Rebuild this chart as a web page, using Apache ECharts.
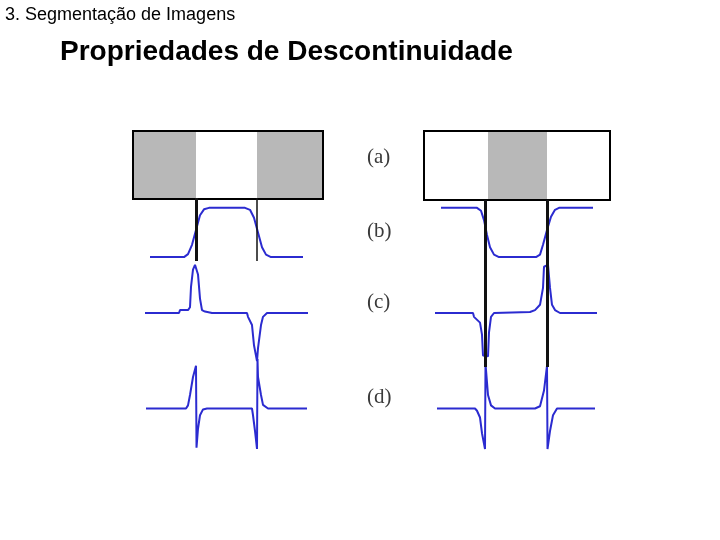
<!DOCTYPE html>
<html><head><meta charset="utf-8">
<script src="https://cdn.jsdelivr.net/npm/echarts@6/dist/echarts.min.js"></script>
<style>html,body{margin:0;padding:0;background:#fff}#c{width:720px;height:540px}</style>
</head><body><div id="c"></div>
<script>
// ---------- text ----------
const headerText = '3. Segmentação de Imagens';
const titleText = 'Propriedades de Descontinuidade';
const rowLabels = ['(a)', '(b)', '(c)', '(d)'];

// ---------- (a) image strips: band widths along the strip ----------
const leftBands = [63, 61, 66];
const leftBandShades = ['gray', 'white', 'gray'];
const rightBands = [64, 59, 63];
const rightBandShades = ['white', 'gray', 'white'];

// ---------- edge positions ----------
const leftEdges = [63, 124];
const rightEdges = [61, 123];

// ---------- (b) intensity profiles ----------
const lbX = [17, 51, 55, 59, 63, 67, 71, 76, 112, 117, 121, 125, 129, 133, 138, 170];
const lbY = [0, 0, 0.06, 0.25, 0.55, 0.85, 0.97, 1, 1, 0.96, 0.8, 0.5, 0.2, 0.05, 0, 0];
const rbX = [17, 53, 57, 60, 63, 66, 70, 75, 112, 116, 119, 123, 127, 131, 135, 169];
const rbY = [1, 1, 0.94, 0.75, 0.45, 0.2, 0.05, 0, 0, 0.05, 0.25, 0.55, 0.82, 0.96, 1, 1];

// ---------- (c) first derivative ----------
const lcX = [12, 46, 47, 55, 57, 58, 60, 62, 63, 65, 67, 69, 72, 79, 114, 115, 119, 121, 124, 125, 128, 130, 134, 175];
const lcY = [0, 0, 0.06, 0.06, 0.12, 0.54, 0.9, 1, 1, 0.8, 0.3, 0.06, 0.03, 0, 0, -0.08, -0.25, -0.67, -1, -0.73, -0.25, -0.08, 0, 0];
const rcX = [11, 49, 50, 56, 58, 59, 60, 64, 65, 67, 70, 106, 111, 116, 119, 120, 121, 124, 126, 128, 131, 136, 173];
const rcY = [0, 0, -0.08, -0.2, -0.45, -0.88, -0.9, -0.9, -0.4, -0.08, 0, 0.02, 0.06, 0.17, 0.52, 0.96, 1, 1, 0.52, 0.17, 0.06, 0, 0];

// ---------- (d) second derivative ----------
const ldX = [13, 53, 55, 57, 60, 63, 63.5, 65, 67, 70, 74, 119, 120, 122, 124, 124.5, 125, 128, 130, 135, 174];
const ldY = [0, 0, 0.07, 0.3, 0.7, 0.95, -0.87, -0.45, -0.15, -0.02, 0, 0, -0.15, -0.5, -0.9, 1.1, 0.7, 0.3, 0.08, 0, 0];
const rdX = [13, 51, 53, 56, 58, 61, 61.5, 64, 67, 71, 111, 116, 120, 123, 123.5, 126, 129, 133, 171];
const rdY = [0, 0, -0.05, -0.2, -0.55, -0.9, 1.0, 0.3, 0.07, 0, 0, 0.05, 0.4, 0.95, -0.9, -0.5, -0.15, 0, 0];

// ---------- styling / layout ----------
const shade = { gray: '#b8b8b8', white: '#ffffff' };
const BLUE = '#2b2bd0';
const COL = [{ left: 133, width: 190, span: 190 }, { left: 424, width: 186, span: 186 }];
const pair = (xs, ys) => xs.map((x, i) => [x, ys[i]]);

const grids = [], xAxes = [], yAxes = [], series = [];
function addGrid(col, top, height, ymin, ymax, extra) {
  const idx = grids.length;
  grids.push(Object.assign({ left: COL[col].left, width: COL[col].width, top: top, height: height, containLabel: false }, extra || {}));
  xAxes.push({ type: 'value', gridIndex: idx, min: 0, max: COL[col].span, show: false });
  if (ymin === null) yAxes.push({ type: 'category', gridIndex: idx, data: ['s'], show: false });
  else yAxes.push({ type: 'value', gridIndex: idx, min: ymin, max: ymax, show: false });
  return idx;
}
const frame = { show: true, borderColor: '#000', borderWidth: 2, backgroundColor: 'transparent', z: 5 };

// (a) strips
[[0, leftBands, leftBandShades, 131, 68], [1, rightBands, rightBandShades, 131, 69]].forEach(([col, bands, shades, top, h]) => {
  const g = addGrid(col, top, h, null, null, frame);
  bands.forEach((w, i) => series.push({
    type: 'bar', xAxisIndex: g, yAxisIndex: g, stack: 'strip' + col, data: [w],
    barWidth: '100%', itemStyle: { color: shade[shades[i]] }, silent: true
  }));
});

// edge lines overlays
[[0, leftEdges, [3, 1.5], 198, 63], [1, rightEdges, [3, 3], 200, 167]].forEach(([col, edges, widths, top, h]) => {
  const g = addGrid(col, top, h, 0, 1);
  series.push({
    type: 'line', xAxisIndex: g, yAxisIndex: g, data: [], z: 2, silent: true,
    markLine: {
      symbol: ['none', 'none'], silent: true, label: { show: false },
      data: edges.map((e, i) => ({ xAxis: e, lineStyle: { color: '#111', width: widths[i], type: 'solid' } }))
    }
  });
});

// signal rows
const rows = [
  { top: 198, h: 64, min: -0.1, max: 1.2, L: pair(lbX, lbY), R: pair(rbX, rbY) },
  { top: 260, h: 106, min: -1.1, max: 1.1, L: pair(lcX, lcY), R: pair(rcX, rcY) },
  { top: 350, h: 108, min: -1.1, max: 1.3, L: pair(ldX, ldY), R: pair(rdX, rdY) }
];
rows.forEach(r => {
  ['L', 'R'].forEach((side, col) => {
    const g = addGrid(col, r.top, r.h, r.min, r.max);
    series.push({
      type: 'line', xAxisIndex: g, yAxisIndex: g, data: r[side], symbol: 'none', z: 4,
      lineStyle: { color: BLUE, width: 2 }, silent: true, clip: false
    });
  });
});

// titles
const labelTops = [147, 221, 292, 387];
const titles = [
  { text: headerText, left: 5, top: 6, padding: 0, textStyle: { fontFamily: 'Liberation Sans, Arial', fontSize: 18, fontWeight: 'normal', color: '#000' } },
  { text: titleText, left: 60, top: 38, padding: 0, textStyle: { fontFamily: 'Liberation Sans, Arial', fontSize: 28, fontWeight: 'bold', color: '#000' } }
].concat(rowLabels.map((t, i) => ({
  text: t, left: 367, top: labelTops[i], padding: 0,
  textStyle: { fontFamily: 'Liberation Serif, Times New Roman, serif', fontSize: 21, fontWeight: 'normal', color: '#3a3a3a' }
})));

const chart = echarts.init(document.getElementById('c'), null, { renderer: 'canvas' });
chart.setOption({
  backgroundColor: '#fff',
  animation: false,
  title: titles,
  grid: grids, xAxis: xAxes, yAxis: yAxes, series: series
});
</script></body></html>
